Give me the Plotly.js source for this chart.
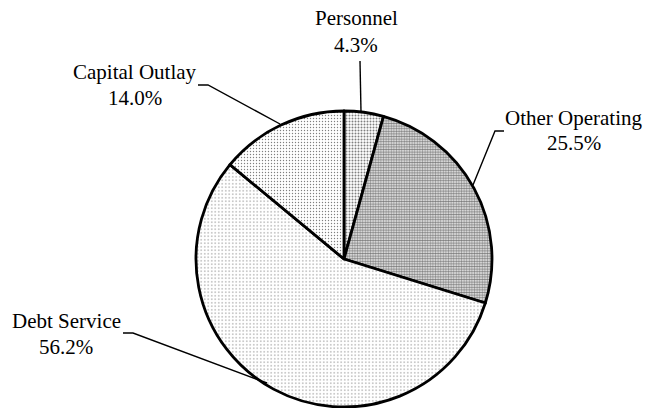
<!DOCTYPE html>
<html><head><meta charset="utf-8">
<script src="https://cdn.plot.ly/plotly-3.0.1.min.js"></script>
<style>html,body{margin:0;padding:0;background:#fff}#c{width:647px;height:408px}</style>
</head><body><div id="c"></div>
<script>
const categories = ["Personnel", "Other Operating", "Debt Service", "Capital Outlay"];
const values = [4.3, 25.5, 56.2, 14.0];

const W = 647, H = 408;
const px = (x) => x / W, py = (y) => 1 - y / H;

const patterns = {
  shape: [".", ".", ".", "."],
  size: [3, 2.6, 3.5, 3],
  solidity: [0.33, 0.62, 0.12, 0.16],
  fgcolor: "#000",
  bgcolor: "#fff",
  fillmode: "overlay"
};

const trace = {
  type: "pie",
  labels: categories,
  values: values,
  sort: false,
  direction: "clockwise",
  rotation: 0,
  textinfo: "none",
  hoverinfo: "label+percent",
  marker: {
    colors: ["#fff", "#fff", "#fff", "#fff"],
    line: {color: "#000", width: 2.8},
    pattern: patterns
  },
  domain: {x: [px(196), px(492)], y: [py(407), py(111)]},
  showlegend: false
};

const labelPos = [
  {x: 356, y1: 18.5, y2: 45},
  {x: 574, y1: 118, y2: 143},
  {x: 66, y1: 321, y2: 347},
  {x: 135, y1: 72, y2: 98}
];
const font = {family: "Liberation Serif", size: 21, color: "#000"};
const annotations = [];
categories.forEach((c, i) => {
  const p = labelPos[i];
  annotations.push({x: px(p.x), y: py(p.y1), xref: "paper", yref: "paper", xanchor: "center", yanchor: "middle",
    text: c, showarrow: false, font: font});
  annotations.push({x: px(p.x), y: py(p.y2), xref: "paper", yref: "paper", xanchor: "center", yanchor: "middle",
    text: values[i].toFixed(1) + "%", showarrow: false, font: font});
});

const leaders = [
  [[360, 61], [361, 112]],
  [[504, 131], [495, 131], [473, 185]],
  [[123, 333], [133, 333], [267, 383]],
  [[198, 85], [208, 85], [280, 124]]
];
const shapes = leaders.map(pts => ({
  type: "path", xref: "paper", yref: "paper",
  path: pts.map((p, k) => (k ? "L" : "M") + px(p[0]) + "," + py(p[1])).join(" "),
  line: {color: "#000", width: 1.4}
}));

Plotly.newPlot("c", [trace], {
  width: W, height: H,
  margin: {l: 0, r: 0, t: 0, b: 0},
  paper_bgcolor: "#fff",
  annotations: annotations,
  shapes: shapes
}, {staticPlot: true});
</script></body></html>
